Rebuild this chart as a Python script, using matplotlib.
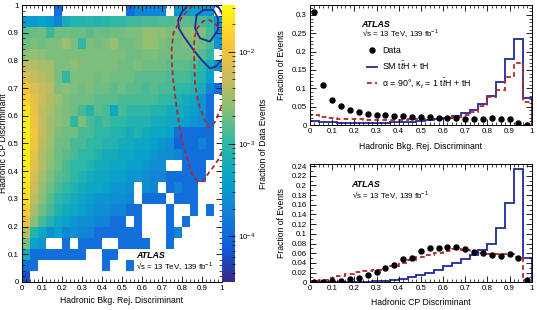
import numpy as np
import matplotlib
matplotlib.use("Agg")
import matplotlib.pyplot as plt
from matplotlib.colors import LinearSegmentedColormap, LogNorm
from matplotlib.ticker import MultipleLocator
from matplotlib.lines import Line2D

plt.rcParams["font.family"] = ["Liberation Sans", "DejaVu Sans"]
plt.rcParams["mathtext.fontset"] = "custom"
plt.rcParams["mathtext.rm"] = "Liberation Sans"
plt.rcParams["mathtext.it"] = "Liberation Sans:italic"
plt.rcParams["mathtext.bf"] = "Liberation Sans:bold"

# 25 bins in each discriminant
edges = np.linspace(0, 1, 26)
centers = 0.5 * (edges[1:] + edges[:-1])

# 2D data fraction, units of 1e-4, rows from top (CP 0.96-1) to bottom (CP 0-0.04)
frac_unit = 1e-4
hist2d_rows = [
    [0, 0, 0, 0, 1.2, 0, 0, 0, 0, 0, 0, 0, 0, 1.2, 2, 2, 2, 2, 0, 3, 4, 4, 3, 3, 0],
    [3.5, 3.5, 4, 3.5, 2, 6, 8, 8, 9, 8, 9, 10, 10, 12, 12, 13, 13, 14, 14, 16, 16, 14, 13, 10, 3],
    [16, 18, 19, 11, 19, 19, 18, 19, 16, 19, 18, 19, 20, 22, 22, 28, 28, 25, 22, 22, 25, 25, 22, 13, 3],
    [19, 22, 19, 22, 22, 30, 22, 10, 22, 19, 22, 30, 19, 19, 22, 28, 28, 22, 19, 19, 22, 22, 19, 13, 3],
    [25, 28, 25, 22, 22, 22, 22, 22, 22, 22, 22, 22, 22, 19, 19, 22, 22, 19, 19, 19, 19, 19, 16, 10, 0],
    [45, 40, 35, 35, 22, 22, 25, 22, 22, 22, 22, 22, 19, 19, 22, 19, 19, 19, 16, 16, 16, 13, 10, 6, 2.5],
    [65, 50, 40, 35, 22, 10, 22, 22, 22, 19, 22, 19, 19, 19, 16, 16, 16, 16, 13, 13, 13, 10, 8, 4, 0],
    [110, 70, 50, 45, 22, 25, 22, 19, 22, 19, 19, 16, 19, 16, 16, 13, 16, 13, 13, 10, 10, 8, 6, 2, 1.2],
    [160, 85, 55, 38, 30, 22, 19, 19, 19, 16, 16, 16, 13, 13, 13, 13, 13, 10, 10, 8, 6, 5, 3, 1.2, 0],
    [220, 95, 45, 38, 25, 22, 19, 13, 8, 16, 13, 5, 13, 10, 10, 10, 8, 8, 6, 6, 5, 4, 3, 1.2, 0],
    [250, 100, 50, 32, 25, 22, 10, 22, 13, 10, 13, 10, 10, 8, 8, 8, 6, 6, 5, 5, 4, 3, 2.5, 1.2, 0],
    [260, 105, 50, 32, 22, 19, 19, 13, 13, 10, 10, 8, 8, 6, 8, 6, 5, 5, 4, 1.2, 1.2, 1.2, 1.2, 1.2, 0],
    [260, 100, 45, 32, 19, 19, 13, 13, 10, 10, 8, 8, 6, 6, 5, 5, 4, 3, 2.5, 0.9, 1.2, 1.2, 2, 1.2, 0],
    [250, 90, 40, 28, 19, 16, 13, 10, 10, 8, 6, 6, 5, 5, 4, 4, 3, 2.5, 2.5, 2, 1.2, 1.2, 1.2, 1.2, 0],
    [240, 75, 40, 25, 19, 13, 10, 10, 8, 6, 6, 5, 5, 4, 4, 3, 2.5, 2.5, 0, 0, 1.2, 1.2, 1.2, 0, 0],
    [230, 65, 32, 22, 16, 13, 10, 8, 6, 5, 5, 4, 4, 3, 3, 2.5, 2, 2, 1.2, 1.2, 1.2, 1.2, 1.2, 0, 0],
    [210, 55, 28, 19, 13, 10, 8, 6, 5, 5, 4, 3, 3, 2.5, 0, 2.5, 2, 0, 1.2, 2, 1.2, 1.2, 0, 0, 0],
    [190, 45, 25, 16, 10, 8, 6, 5, 4, 3, 3, 2.5, 2.5, 2, 0, 1.2, 1.2, 1.2, 0, 1.2, 1.2, 1.2, 0, 0, 0],
    [140, 35, 19, 13, 8, 6, 5, 4, 3, 2.5, 2.5, 2, 2, 1.2, 1.2, 0, 0, 0, 1.2, 0, 0, 1.2, 0, 1.2, 0],
    [85, 25, 13, 8, 5, 4, 3, 2.5, 2.5, 2, 2, 1.2, 1.2, 0, 1.2, 0, 0, 0, 1.2, 0, 1.2, 0, 0, 0, 0],
    [40, 8, 5, 2.5, 4, 2, 2.5, 2, 2, 1.2, 1.2, 1.2, 1.2, 1.2, 1.2, 0, 0, 0, 1.2, 2, 0, 0, 0, 0, 0],
    [20, 4, 3, 0, 0, 1.2, 0, 1.2, 1.2, 1.2, 0, 0, 1.2, 1.2, 1.2, 1.2, 0, 0, 1.2, 0, 0, 0, 0, 0, 0],
    [6, 1.2, 1.2, 1.2, 1.2, 1.2, 1.2, 1.2, 0, 0, 1.2, 1.2, 0, 0, 0, 0, 0, 0, 0, 0, 0, 0, 0, 0, 0],
    [1.2, 1.2, 0, 0, 0, 0, 0, 0, 0, 0, 1.2, 0, 0, 1.2, 0, 0, 0, 0, 0, 0, 0, 0, 0, 0, 0],
    [0.6, 0, 0, 0, 0, 0, 0, 0, 0, 0, 0, 0, 0, 0, 0, 0, 0, 0, 0, 0, 0, 0, 0, 0, 0],
]

# 68% / 95% contours (bkg-rej, CP)
sm_outer_x = [0.84, 0.83, 0.80, 0.78, 0.785, 0.81, 0.857, 0.90, 0.94, 0.97, 0.995, 1.02, 1.04, 1.00, 0.985, 0.96, 0.95]
sm_outer_y = [1.03, 1.00, 0.975, 0.946, 0.915, 0.885, 0.838, 0.80, 0.771, 0.778, 0.80, 0.82, 0.90, 0.97, 0.99, 1.00, 1.03]
sm_inner_x = [0.873, 0.907, 0.957, 0.98, 0.98, 0.94, 0.89, 0.865, 0.873]
sm_inner_y = [0.964, 0.982, 0.982, 0.952, 0.91, 0.868, 0.88, 0.916, 0.964]
cp_outer_x = [0.88, 0.85, 0.80, 0.757, 0.748, 0.75, 0.757, 0.775, 0.80, 0.825, 0.85, 0.875, 0.90, 0.93, 0.957, 0.98, 1.0, 1.02]
cp_outer_y = [1.02, 0.995, 0.958, 0.898, 0.84, 0.78, 0.72, 0.62, 0.51, 0.45, 0.39, 0.365, 0.362, 0.39, 0.416, 0.44, 0.47, 0.50]
cp_inner_x = [1.01, 0.975, 0.94, 0.906, 0.875, 0.862, 0.86, 0.865, 0.88, 0.905, 0.93, 0.95, 0.965, 0.99, 1.01]
cp_inner_y = [0.90, 0.925, 0.946, 0.942, 0.915, 0.88, 0.837, 0.717, 0.65, 0.60, 0.556, 0.565, 0.578, 0.62, 0.66]

# 1D fractions, Hadronic Bkg. Rej. Discriminant
bkg_data = [0.308, 0.108, 0.068, 0.051, 0.041, 0.036, 0.031, 0.027, 0.027, 0.025, 0.025, 0.023, 0.022,
            0.021, 0.020, 0.020, 0.019, 0.017, 0.016, 0.017, 0.018, 0.016, 0.015, 0.006, 0.001]
bkg_sm = [0.011, 0.008, 0.007, 0.006, 0.006, 0.006, 0.006, 0.006, 0.006, 0.007, 0.007, 0.008, 0.011,
          0.013, 0.016, 0.020, 0.025, 0.032, 0.041, 0.057, 0.080, 0.118, 0.179, 0.234, 0.073]
bkg_cp = [0.027, 0.022, 0.019, 0.017, 0.016, 0.015, 0.014, 0.014, 0.014, 0.014, 0.014, 0.015, 0.015,
          0.016, 0.017, 0.019, 0.023, 0.027, 0.036, 0.053, 0.075, 0.095, 0.132, 0.168, 0.064]

# 1D fractions, Hadronic CP Discriminant
cp_data = [0.000, 0.000, 0.002, 0.003, 0.006, 0.009, 0.016, 0.021, 0.029, 0.035, 0.048, 0.051, 0.065,
           0.071, 0.071, 0.073, 0.073, 0.068, 0.063, 0.060, 0.057, 0.054, 0.059, 0.050, 0.004]
cp_sm = [0.0003, 0.0003, 0.0003, 0.0004, 0.0005, 0.0007, 0.001, 0.002, 0.003, 0.005, 0.007, 0.011, 0.015,
         0.020, 0.026, 0.033, 0.040, 0.048, 0.056, 0.066, 0.080, 0.113, 0.163, 0.234, 0.051]
cp_cp = [0.002, 0.004, 0.008, 0.012, 0.017, 0.021, 0.024, 0.026, 0.030, 0.033, 0.040, 0.045, 0.052,
         0.057, 0.060, 0.065, 0.068, 0.066, 0.063, 0.061, 0.059, 0.058, 0.059, 0.052, 0.004]

# ROOT kBird palette
bird_stops = [0.0, 0.125, 0.25, 0.375, 0.5, 0.625, 0.75, 0.875, 1.0]
bird_r = [0.2082, 0.0592, 0.0780, 0.0232, 0.1802, 0.5301, 0.8186, 0.9956, 0.9764]
bird_g = [0.1664, 0.3599, 0.5041, 0.6419, 0.7178, 0.7492, 0.7328, 0.7862, 0.9832]
bird_b = [0.5293, 0.8684, 0.8385, 0.7914, 0.6425, 0.4662, 0.3499, 0.1968, 0.0539]
bird = LinearSegmentedColormap.from_list(
    "bird", list(zip(bird_stops, zip(bird_r, bird_g, bird_b))))

BLUE = "#1f2a9a"
RED = "#b3262b"
DASH = (0, (2.6, 1.8))
LABEL_FS = 6.2


def root_style(ax, xmaj, xmin, ymaj, ymin):
    ax.xaxis.set_major_locator(MultipleLocator(xmaj))
    ax.xaxis.set_minor_locator(MultipleLocator(xmin))
    ax.yaxis.set_major_locator(MultipleLocator(ymaj))
    ax.yaxis.set_minor_locator(MultipleLocator(ymin))
    ax.tick_params(which="both", direction="in", top=True, right=True, labelsize=5.7, pad=2.2)
    ax.tick_params(which="major", length=4, width=0.6)
    ax.tick_params(which="minor", length=2, width=0.5)
    for s in ax.spines.values():
        s.set_linewidth(0.7)
    ax.xaxis.set_major_formatter(lambda v, p: f"{v:g}")
    ax.yaxis.set_major_formatter(lambda v, p: f"{v:g}")


def atlas_label(ax, x, y, dy):
    ax.text(x, y, "ATLAS", transform=ax.transAxes, fontsize=6.4, fontweight="bold",
            style="italic", va="center")
    ax.text(x, y - dy, "√s = 13 TeV, 139 fb$^{-1}$", transform=ax.transAxes,
            fontsize=5.7, va="center")


fig = plt.figure(figsize=(5.37, 3.10), dpi=100)
ax_h = fig.add_axes([22 / 537, 28 / 310, 200 / 537, 277 / 310])
cax = fig.add_axes([222 / 537, 28 / 310, 13 / 537, 277 / 310])
ax_t = fig.add_axes([310 / 537, 185 / 310, 221.7 / 537, 120 / 310])
ax_b = fig.add_axes([310 / 537, 27.7 / 310, 221.7 / 537, 118.7 / 310])

# 2D histogram
grid = np.array(hist2d_rows[::-1]) * frac_unit
grid = np.ma.masked_where(grid <= 0, grid)
mesh = ax_h.pcolormesh(edges, edges, grid, cmap=bird,
                       norm=LogNorm(vmin=3.2e-5, vmax=3.2e-2), edgecolors="none")
ax_h.plot(sm_outer_x, sm_outer_y, color=BLUE, lw=1.3)
ax_h.plot(sm_inner_x, sm_inner_y, color=BLUE, lw=1.3)
ax_h.plot(cp_outer_x, cp_outer_y, color=RED, lw=1.3, ls=DASH)
ax_h.plot(cp_inner_x, cp_inner_y, color=RED, lw=1.3, ls=DASH)
ax_h.set_xlim(0, 1)
ax_h.set_ylim(0, 1)
root_style(ax_h, 0.1, 0.02, 0.1, 0.02)
ax_h.set_xlabel("Hadronic Bkg. Rej. Discriminant", fontsize=LABEL_FS)
ax_h.set_ylabel("Hadronic CP Discriminant", fontsize=LABEL_FS)
ax_h.xaxis.set_label_coords(0.5, -0.052)
ax_h.yaxis.set_label_coords(-0.07, 0.5)
atlas_label(ax_h, 0.57, 0.097, 0.039)

cb = fig.colorbar(mesh, cax=cax)
cb.outline.set_linewidth(0)
cax.tick_params(which="both", direction="in", right=True, labelsize=5.7, pad=2)
cax.tick_params(which="major", length=5, width=0.6)
cax.tick_params(which="minor", length=2.5, width=0.5)
cb.set_label("Fraction of Data Events", fontsize=LABEL_FS)
cax.yaxis.set_label_coords(2.85, 0.5)

# top right: bkg-rejection discriminant
ax_t.stairs(bkg_sm, edges, color=BLUE, lw=1.3)
ax_t.stairs(bkg_cp, edges, color=RED, lw=1.3, ls=DASH)
ax_t.plot(centers, bkg_data, "o", color="black", ms=3.6)
ax_t.set_xlim(0, 1)
ax_t.set_ylim(0, 0.327)
root_style(ax_t, 0.1, 0.02, 0.05, 0.01)
ax_t.set_xlabel("Hadronic Bkg. Rej. Discriminant", fontsize=LABEL_FS)
ax_t.set_ylabel("Fraction of Events", fontsize=LABEL_FS)
ax_t.xaxis.set_label_coords(0.5, -0.14)
ax_t.yaxis.set_label_coords(-0.11, 0.5)
atlas_label(ax_t, 0.233, 0.84, 0.077)
handles = [
    Line2D([], [], ls="none", marker="o", color="black", ms=3.6),
    Line2D([], [], color=BLUE, lw=1.3),
    Line2D([], [], color=RED, lw=1.3, ls=DASH),
]
labels = ["Data", r"SM t$\bar{t}$H + tH", r"α = 90°, κ$_t$ = 1 t$\bar{t}$H + tH"]
ax_t.legend(handles, labels, loc="upper left", bbox_to_anchor=(0.256, 0.655), frameon=False,
            fontsize=6.4, handlelength=1.2, handletextpad=0.55, labelspacing=0.45,
            borderaxespad=0, borderpad=0)

# bottom right: CP discriminant
ax_b.stairs(cp_sm, edges, color=BLUE, lw=1.3)
ax_b.stairs(cp_cp, edges, color=RED, lw=1.3, ls=DASH)
ax_b.plot(centers, cp_data, "o", color="black", ms=3.6)
ax_b.set_xlim(0, 1)
ax_b.set_ylim(0, 0.245)
root_style(ax_b, 0.1, 0.02, 0.02, 0.01)
ax_b.set_xlabel("Hadronic CP Discriminant", fontsize=LABEL_FS)
ax_b.set_ylabel("Fraction of Events", fontsize=LABEL_FS)
ax_b.xaxis.set_label_coords(0.5, -0.13)
ax_b.yaxis.set_label_coords(-0.11, 0.5)
atlas_label(ax_b, 0.188, 0.826, 0.09)

fig.savefig("out.png", dpi=100)
